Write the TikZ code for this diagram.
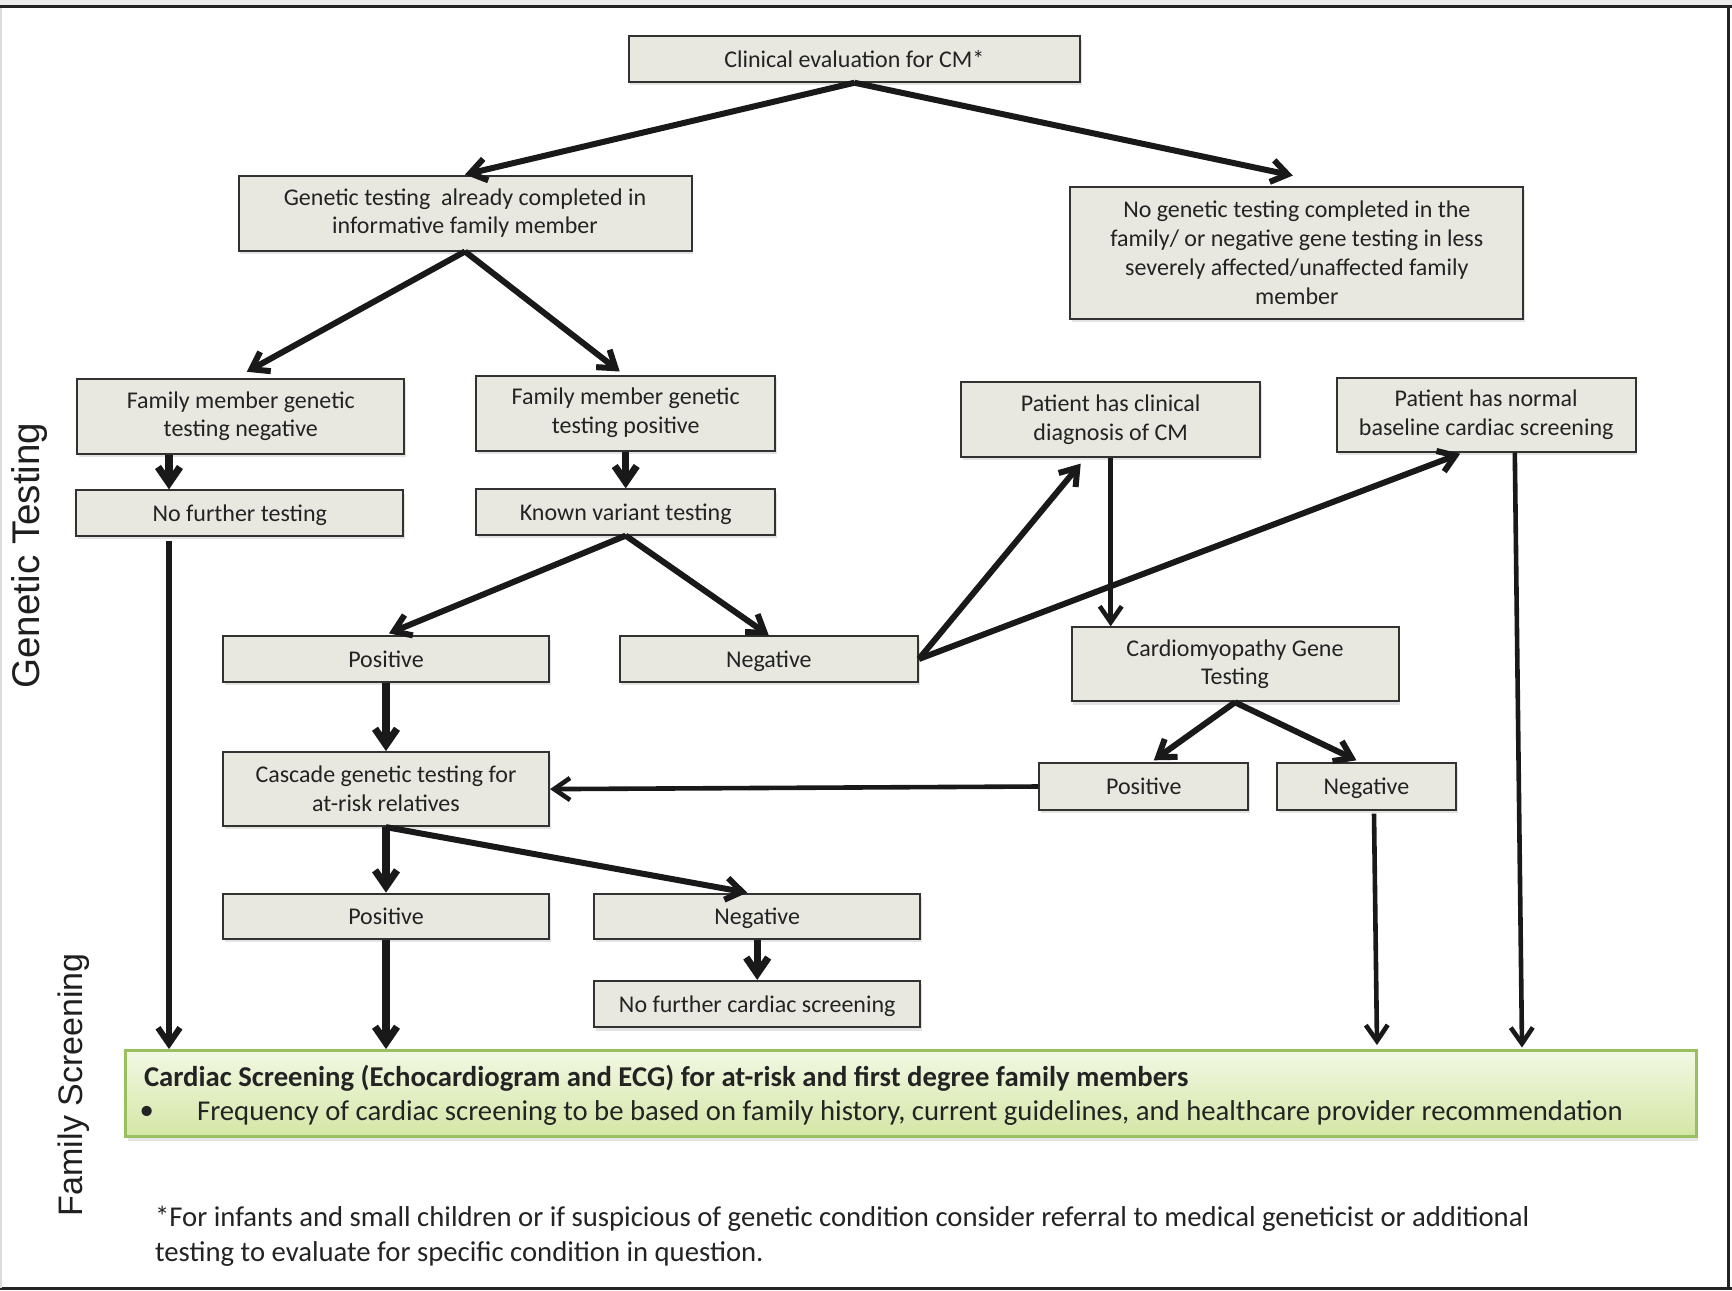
\documentclass[tikz,border=0pt]{standalone}
\usepackage{fontspec}
\setmainfont{Carlito}
\newfontfamily\sidefont{Liberation Sans}
\usetikzlibrary{arrows.meta,shadows,calc}
\definecolor{boxfill}{RGB}{232,232,224}
\definecolor{boxdraw}{RGB}{50,50,50}
\definecolor{txt}{RGB}{35,35,35}
\definecolor{arrc}{RGB}{25,25,25}
\definecolor{gtop}{RGB}{242,248,228}
\definecolor{gbot}{RGB}{212,230,165}
\definecolor{gdraw}{RGB}{155,190,95}
\definecolor{framec}{RGB}{35,35,35}
\definecolor{stripc}{RGB}{236,236,236}
\tikzset{
  box/.style={draw=boxdraw, line width=1pt, fill=boxfill, text=txt, align=center, inner sep=0pt,
    font=\fontsize{12}{14.4}\selectfont,
    drop shadow={shadow xshift=0.8pt, shadow yshift=-1.6pt, opacity=0.22}},
  one/.style={text depth=0pt},
  sz/.style 2 args={minimum width=#1*0.5pt, minimum height=#2*0.5pt},
  arr/.style={draw=arrc, line width=3pt, -{Straight Barb[length=8pt,width=11pt]}},
  arrT/.style={arr, line width=3.6pt},
  arrS/.style={arr, line width=2.3pt},
  gfont/.style={font=\fontsize{14.35}{17.2}\selectfont},
}
\begin{document}
\begin{tikzpicture}[x=0.5pt,y=-0.5pt]
\useasboundingbox (0,0) rectangle (1732,1290);
\fill[white] (0,0) rectangle (1732,1290);
\fill[stripc] (0,0) rectangle (1732,5);
\draw[line width=1.7pt, framec] (0,6.5) -- (1732,6.5);
\draw[line width=1.5pt, framec] (1728.5,5) -- (1728.5,1290);
\draw[line width=1.2pt, framec] (0,1288.5) -- (1732,1288.5);
\draw[line width=1pt, black!14] (1,8) -- (1,1288);

% side labels
\node[rotate=90, font=\sidefont\fontsize{19.3}{22}\selectfont, text=black!88, inner sep=0pt] (lgt) at (29.8,555.6) {Genetic Testing};
\node[rotate=90, font=\sidefont\fontsize{17}{20}\selectfont, text=black!88, inner sep=0pt] (lfs) at (74,1084.7) {Family Screening};

% boxes
\node[box, one, sz={451.8}{45.3}] (clin) at (854.4,59.1) {Clinical evaluation for CM*};
\node[box, sz={453}{75}] (gen) at (465,213) {Genetic testing\ \ already completed in\\informative family member};
\node[box, sz={453}{132.5}] (nog) at (1296.8,252.8) {No genetic testing completed in the\\family/ or negative gene testing in less\\severely affected/unaffected family\\member};
\node[box, sz={327}{75}] (fmneg) at (240.8,416.3) {Family member genetic\\testing negative};
\node[box, sz={299.3}{75}] (fmpos) at (625.7,413) {Family member genetic\\testing positive};
\node[box, sz={299.4}{75}] (pclin) at (1110.7,419.6) {Patient has clinical\\diagnosis of CM};
\node[box, sz={299.3}{74}] (pnorm) at (1486.2,414.7) {Patient has normal\\baseline cardiac screening};
\node[box, one, sz={327}{45.3}] (nft) at (239.7,513) {No further testing};
\node[box, one, sz={299.3}{45.3}] (known) at (625.7,512) {Known variant testing};
\node[box, one, sz={326}{45.3}] (pos1) at (386,659) {Positive};
\node[box, one, sz={298.2}{45.3}] (neg1) at (768.8,659) {Negative};
\node[box, sz={327}{74}] (cardio) at (1235,664.3) {Cardiomyopathy Gene\\Testing};
\node[box, sz={326}{74}] (cascade) at (386,789.1) {Cascade genetic testing for\\at-risk relatives};
\node[box, one, sz={208.8}{46.4}] (pos2) at (1143.8,786.5) {Positive};
\node[box, one, sz={179}{46.4}] (neg2) at (1366.4,786.5) {Negative};
\node[box, one, sz={326}{45.3}] (pos3) at (386,916.3) {Positive};
\node[box, one, sz={325.8}{45.3}] (neg3) at (757.2,916.3) {Negative};
\node[box, one, sz={325.8}{46.4}] (nfc) at (757.2,1004.1) {No further cardiac screening};

% green box
\node[draw=gdraw, line width=1.5pt, top color=gtop, bottom color=gbot, sz={1570.8}{86.1}, inner sep=0pt,
  drop shadow={shadow xshift=0.8pt, shadow yshift=-2pt, opacity=0.2}] (green) at (911.3,1093.6) {};
\node[anchor=west, inner sep=0pt, text=txt, font=\bfseries\fontsize{14.35}{17.2}\selectfont] (gtitle) at (143.6,1078) {Cardiac Screening (Echocardiogram and ECG) for at-risk and first degree family members};
\node[anchor=west, inner sep=0pt, text=txt, gfont] (gbul) at (139.3,1112.7) {\textbullet};
\node[anchor=west, inner sep=0pt, text=txt, gfont] (gtext) at (196.7,1112.7) {Frequency of cardiac screening to be based on family history, current guidelines, and healthcare provider recommendation};

% footnote
\node[anchor=west, align=left, inner sep=0pt, text=txt, font=\fontsize{14.35}{17.5}\selectfont] (foot) at (154.7,1236.5) {*For infants and small children or if suspicious of genetic condition consider referral to medical geneticist or additional\\testing to evaluate for specific condition in question.};

% helper x positions
\coordinate (xa) at (169,0);
\coordinate (xn0) at (1514.8,0);
\coordinate (xn) at (1522,0);
\coordinate (xr0) at (1374,0);
\coordinate (xr) at (1377,0);

% connectors
\draw[arr] (clin.south) -- (gen.north);
\draw[arr] (clin.south) -- ([xshift=-2pt,yshift=5pt]nog.north);
\draw[arr] (gen.south) -- ([xshift=3pt,yshift=3pt]fmneg.north);
\draw[arr] (gen.south) -- ([xshift=-3pt,yshift=1.5pt]fmpos.north);
\draw[arrT] (fmneg.south -| xa) -- (nft.north -| xa);
\draw[arrT] (fmpos.south) -- (known.north);
\draw[arr] ($(nft.south -| xa)+(0,4)$) -- (green.north -| xa);
\draw[arr] (known.south) -- ([xshift=1.5pt,yshift=1pt]pos1.north);
\draw[arr] (known.south) -- (neg1.north);
\draw[arrT] (pos1.south) -- (cascade.north);
\draw[arr] (neg1.east) -- ([xshift=-15pt,yshift=-2.75pt]pclin.south);
\draw[arr] (neg1.east) -- ([xshift=-13pt,yshift=-0.5pt]pnorm.south);
\draw[arrS] (pclin.south) -- (pclin.south |- cardio.north);
\draw[arrS] (pnorm.south -| xn0) -- ($(green.north -| xn)+(0,-1.5)$);
\draw[arr] (cardio.south) -- ([xshift=5pt,yshift=1pt]pos2.north);
\draw[arr] (cardio.south) -- ([xshift=-5pt,yshift=1pt]neg2.north);
\draw[arrS] (pos2.west) -- (cascade.east);
\draw[arrS] ($(neg2.south -| xr0)+(0,3)$) -- ($(green.north -| xr)+(0,-4)$);
\draw[arrT] (cascade.south) -- (pos3.north);
\draw[arr] (cascade.south) -- ([xshift=-5pt]neg3.north);
\draw[arrT] (pos3.south) -- (pos3.south |- green.north);
\draw[arrT] (neg3.south) -- (nfc.north);
\end{tikzpicture}
\end{document}
